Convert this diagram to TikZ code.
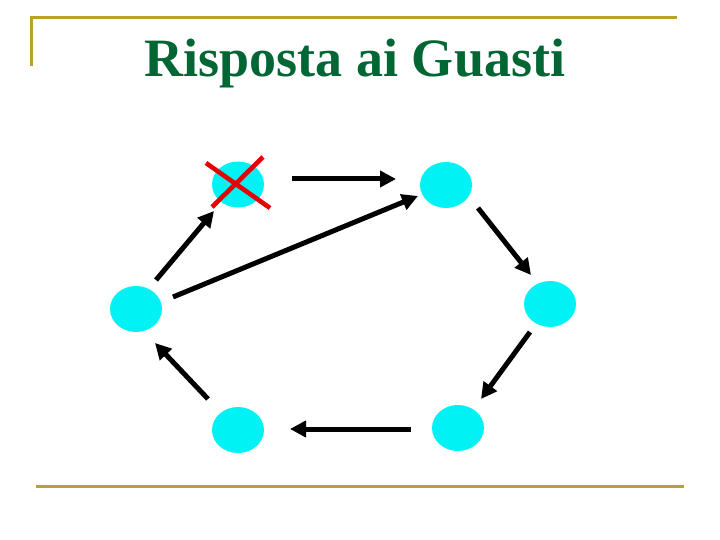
\documentclass[tikz,border=0pt]{standalone}
\usepackage{fontspec}
\setmainfont{Liberation Serif}
\usetikzlibrary{arrows.meta,shapes.geometric}
\definecolor{gold}{RGB}{187,160,48}
\definecolor{titlegreen}{RGB}{0,102,51}
\definecolor{nodecyan}{RGB}{0,242,245}
\definecolor{crossred}{RGB}{230,0,0}
\begin{document}
\begin{tikzpicture}[x=1pt,y=-1pt,
  site/.style={ellipse,fill=nodecyan,minimum width=52pt,minimum height=46pt,inner sep=0pt},
  msg/.style={line width=5pt,-{Triangle[length=16pt,width=16pt]}},
  rule/.style={gold,line width=3pt},
  crossline/.style={crossred,line width=4.6pt}]
\useasboundingbox (0,0) rectangle (720,540);
% frame lines
\draw[rule] (30,18) -- (677,18);
\draw[rule] (31,16.5) -- (31,66);
\draw[rule] (36,486) -- (684,486);
% title
\node[font=\bfseries\fontsize{54}{64}\selectfont,text=titlegreen,anchor=base,inner sep=0pt] (title) at (355,77) {Risposta ai Guasti};
% sites
\node[site] (A) at (238,184.5) {};
\node[site] (B) at (446,185) {};
\node[site] (C) at (550,304) {};
\node[site] (D) at (458,428) {};
\node[site] (E) at (238,430) {};
\node[site] (F) at (136,309) {};
% cross over A
\coordinate (x1) at (206,163);
\coordinate (x2) at (270,208);
\coordinate (x3) at (263,157);
\coordinate (x4) at (212,207);
\draw[crossline] (x1) -- (x2);
\draw[crossline] (x3) -- (x4);
% arrow end points
\coordinate (ab1) at (292,179); \coordinate (ab2) at (396,179);
\coordinate (fb1) at (173,297); \coordinate (fb2) at (418,196);
\coordinate (bc1) at (478,208); \coordinate (bc2) at (531,275);
\coordinate (cd1) at (530,332); \coordinate (cd2) at (481,399);
\coordinate (de1) at (411,429); \coordinate (de2) at (290,429);
\coordinate (ef1) at (208,399); \coordinate (ef2) at (155,343);
\coordinate (fa1) at (156,280); \coordinate (fa2) at (214,211);
\draw[msg] (ab1) -- (ab2);
\draw[msg] (fb1) -- (fb2);
\draw[msg] (bc1) -- (bc2);
\draw[msg] (cd1) -- (cd2);
\draw[msg] (de1) -- (de2);
\draw[msg] (ef1) -- (ef2);
\draw[msg] (fa1) -- (fa2);
\end{tikzpicture}
\end{document}
